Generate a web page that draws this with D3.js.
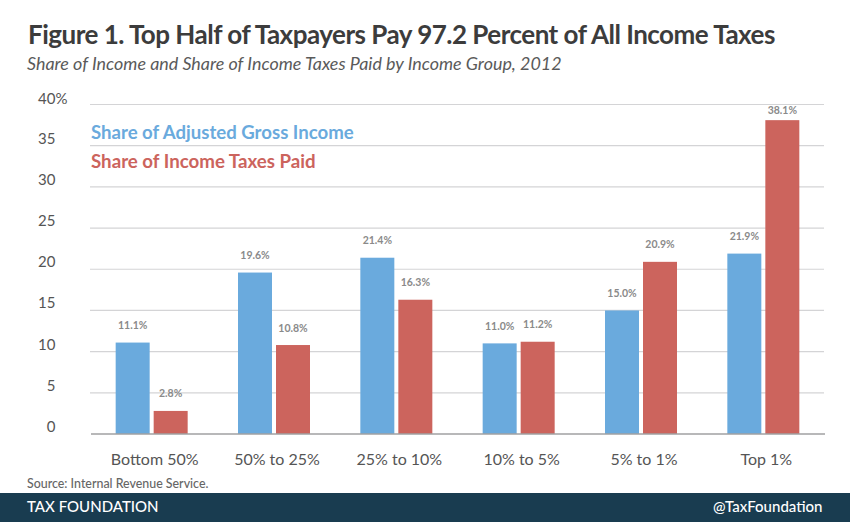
<!DOCTYPE html>
<html><head><meta charset="utf-8">
<script src="https://cdnjs.cloudflare.com/ajax/libs/d3/7.8.5/d3.min.js"></script>
<style>html,body{margin:0;padding:0;background:#fff}svg{display:block}text{font-family:Lato,sans-serif}</style>
</head><body><svg id="c" width="850" height="522"></svg>
<script>
const categories=["Bottom 50%","50% to 25%","25% to 10%","10% to 5%","5% to 1%","Top 1%"];
const agiShare=[11.1,19.6,21.4,11.0,15.0,21.9];
const taxShare=[2.8,10.8,16.3,11.2,20.9,38.1];
const yTicks=[0,5,10,15,20,25,30,35,40];
const seriesNames=["Share of Adjusted Gross Income","Share of Income Taxes Paid"];
const seriesColors=["#6aaadd","#cc645d"];
const svg=d3.select("#c");
const x=d3.scaleBand().domain(categories).range([90.5,824.5]);
const y=d3.scaleLinear().domain([0,40]).range([434,104.5]);
const barW=34,gap=4;
const text=(s,px,py,size,fill,opt={})=>svg.append("text").attr("x",px).attr("y",py).attr("font-size",size).attr("fill",fill)
 .attr("font-weight",opt.w||400).attr("font-style",opt.i?"italic":"normal").attr("text-anchor",opt.a||"start")
 .attr("letter-spacing",opt.ls||0).text(s);
// grid
svg.append("g").selectAll("line").data(yTicks.filter(d=>d>0)).join("line")
 .attr("x1",90).attr("x2",824).attr("y1",d=>y(d)).attr("y2",d=>y(d)).attr("stroke","#d4d4d6").attr("stroke-width",1.2);
// y labels
yTicks.forEach(d=>{
 if(d===40) text("40%",38,y(d)-0.5,15,"#555");
 else text(String(d),55.5,y(d)-2,15,"#555",{a:"end"});
});
// bars
[agiShare,taxShare].forEach((vals,s)=>{
 const off=s===0?-(barW+gap/2):gap/2;
 svg.append("g").selectAll("rect").data(vals).join("rect")
  .attr("x",(d,i)=>x(categories[i])+x.bandwidth()/2+off)
  .attr("y",d=>y(d)).attr("width",barW).attr("height",d=>y(0)-y(d)).attr("fill",seriesColors[s]);
 svg.append("g").selectAll("text").data(vals).join("text")
  .attr("x",(d,i)=>x(categories[i])+x.bandwidth()/2+off+barW/2)
  .attr("y",d=>y(d)-(d>30?7:14)+0.5).attr("text-anchor","middle")
  .attr("font-size",10.5).attr("font-weight",700).attr("fill","#8a8a8a").text(d=>d.toFixed(1)+"%");
});
// baseline
svg.append("line").attr("x1",91).attr("x2",825).attr("y1",y(0)).attr("y2",y(0)).attr("stroke","#a0a0a2").attr("stroke-width",1.5);
// x labels
categories.forEach(c=>text(c,x(c)+x.bandwidth()/2+3,464.5,16,"#555",{a:"middle"}));
// title
text("Figure 1. Top Half of Taxpayers Pay 97.2 Percent of All Income Taxes",28,44,26,"#3c3c3c",{w:700,ls:-0.51});
text("Share of Income and Share of Income Taxes Paid by Income Group, 2012",27,70,17.9,"#5a5a5a",{i:true});
// legend
text(seriesNames[0],91,139,18.6,seriesColors[0],{w:700});
text(seriesNames[1],91,167.5,18.7,seriesColors[1],{w:700});
// footer
text("Source: Internal Revenue Service.",27,488,12.4,"#666",{w:500});
svg.append("rect").attr("x",0).attr("y",493).attr("width",850).attr("height",29).attr("fill","#193c50");
text("TAX FOUNDATION",27,512,15,"#fff",{w:500});
text("@TaxFoundation",822.5,512,15,"#fff",{a:"end",w:500});
</script></body></html>
